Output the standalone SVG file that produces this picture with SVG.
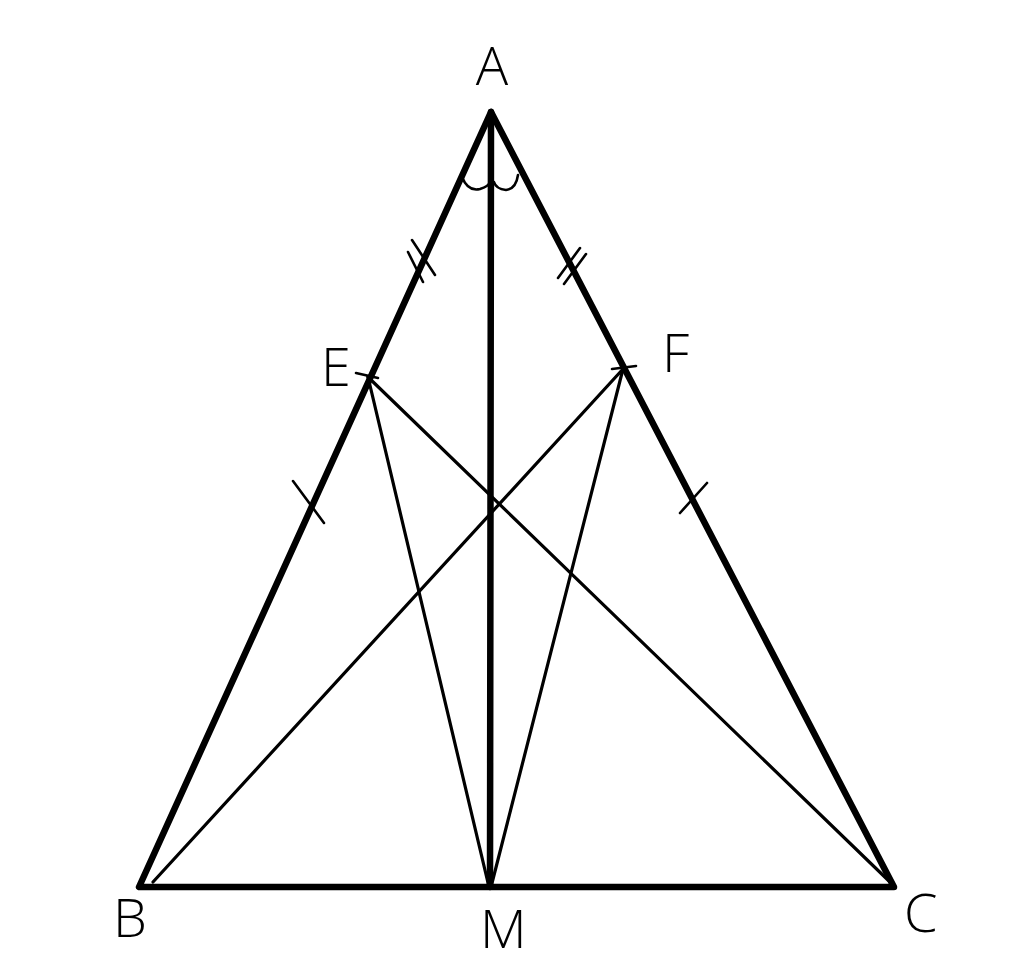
<svg xmlns="http://www.w3.org/2000/svg" width="1024" height="966" viewBox="0 0 1024 966">
<style>
.thick{stroke:#000;stroke-width:6.5;fill:none;stroke-linecap:round;stroke-linejoin:round}
.thin{stroke:#000;stroke-width:3.2;fill:none;stroke-linecap:round}
.mark{stroke:#000;stroke-width:2.6;fill:none;stroke-linecap:round}
.lbl{font-family:"Open Sans","Liberation Sans",sans-serif;font-weight:300;font-size:54px;fill:#000}
</style>
<rect width="1024" height="966" fill="#fff"/>
<g id="connectors">
<polygon class="thick" points="491,112 139,887 894,887"/>
<line class="thick" x1="491" y1="112" x2="490" y2="887"/>
<line class="thin" x1="153" y1="882" x2="623" y2="369"/>
<line class="thin" x1="368" y1="377" x2="890" y2="882"/>
<line class="thin" x1="368" y1="377" x2="489" y2="887"/>
<line class="thin" x1="623" y1="369" x2="491" y2="887"/>
<path class="mark" d="M462,177 Q468,192 480,189 Q489,186 490,182"/>
<path class="mark" d="M494,182 Q496,189 506,190 Q516,189 518,175"/>
<line class="mark" x1="412" y1="240" x2="435" y2="275"/>
<line class="mark" x1="408" y1="252" x2="423" y2="282"/>
<line class="mark" x1="580" y1="248" x2="558" y2="278"/>
<line class="mark" x1="586" y1="254" x2="564" y2="284"/>
<line class="mark" x1="293" y1="481" x2="324" y2="523"/>
<line class="mark" x1="707" y1="483" x2="680" y2="513"/>
<line class="mark" x1="356" y1="373" x2="378" y2="378"/>
<line class="mark" x1="612" y1="369" x2="636" y2="366"/>
</g>
<g id="A"><text class="lbl" x="492" y="85" text-anchor="middle">A</text></g>
<g id="E"><text class="lbl" x="321" y="386">E</text></g>
<g id="F"><text class="lbl" x="662" y="372">F</text></g>
<g id="B"><text class="lbl" x="113" y="937">B</text></g>
<g id="M"><text class="lbl" x="480" y="948">M</text></g>
<g id="C"><text class="lbl" x="904" y="932">C</text></g>
</svg>
